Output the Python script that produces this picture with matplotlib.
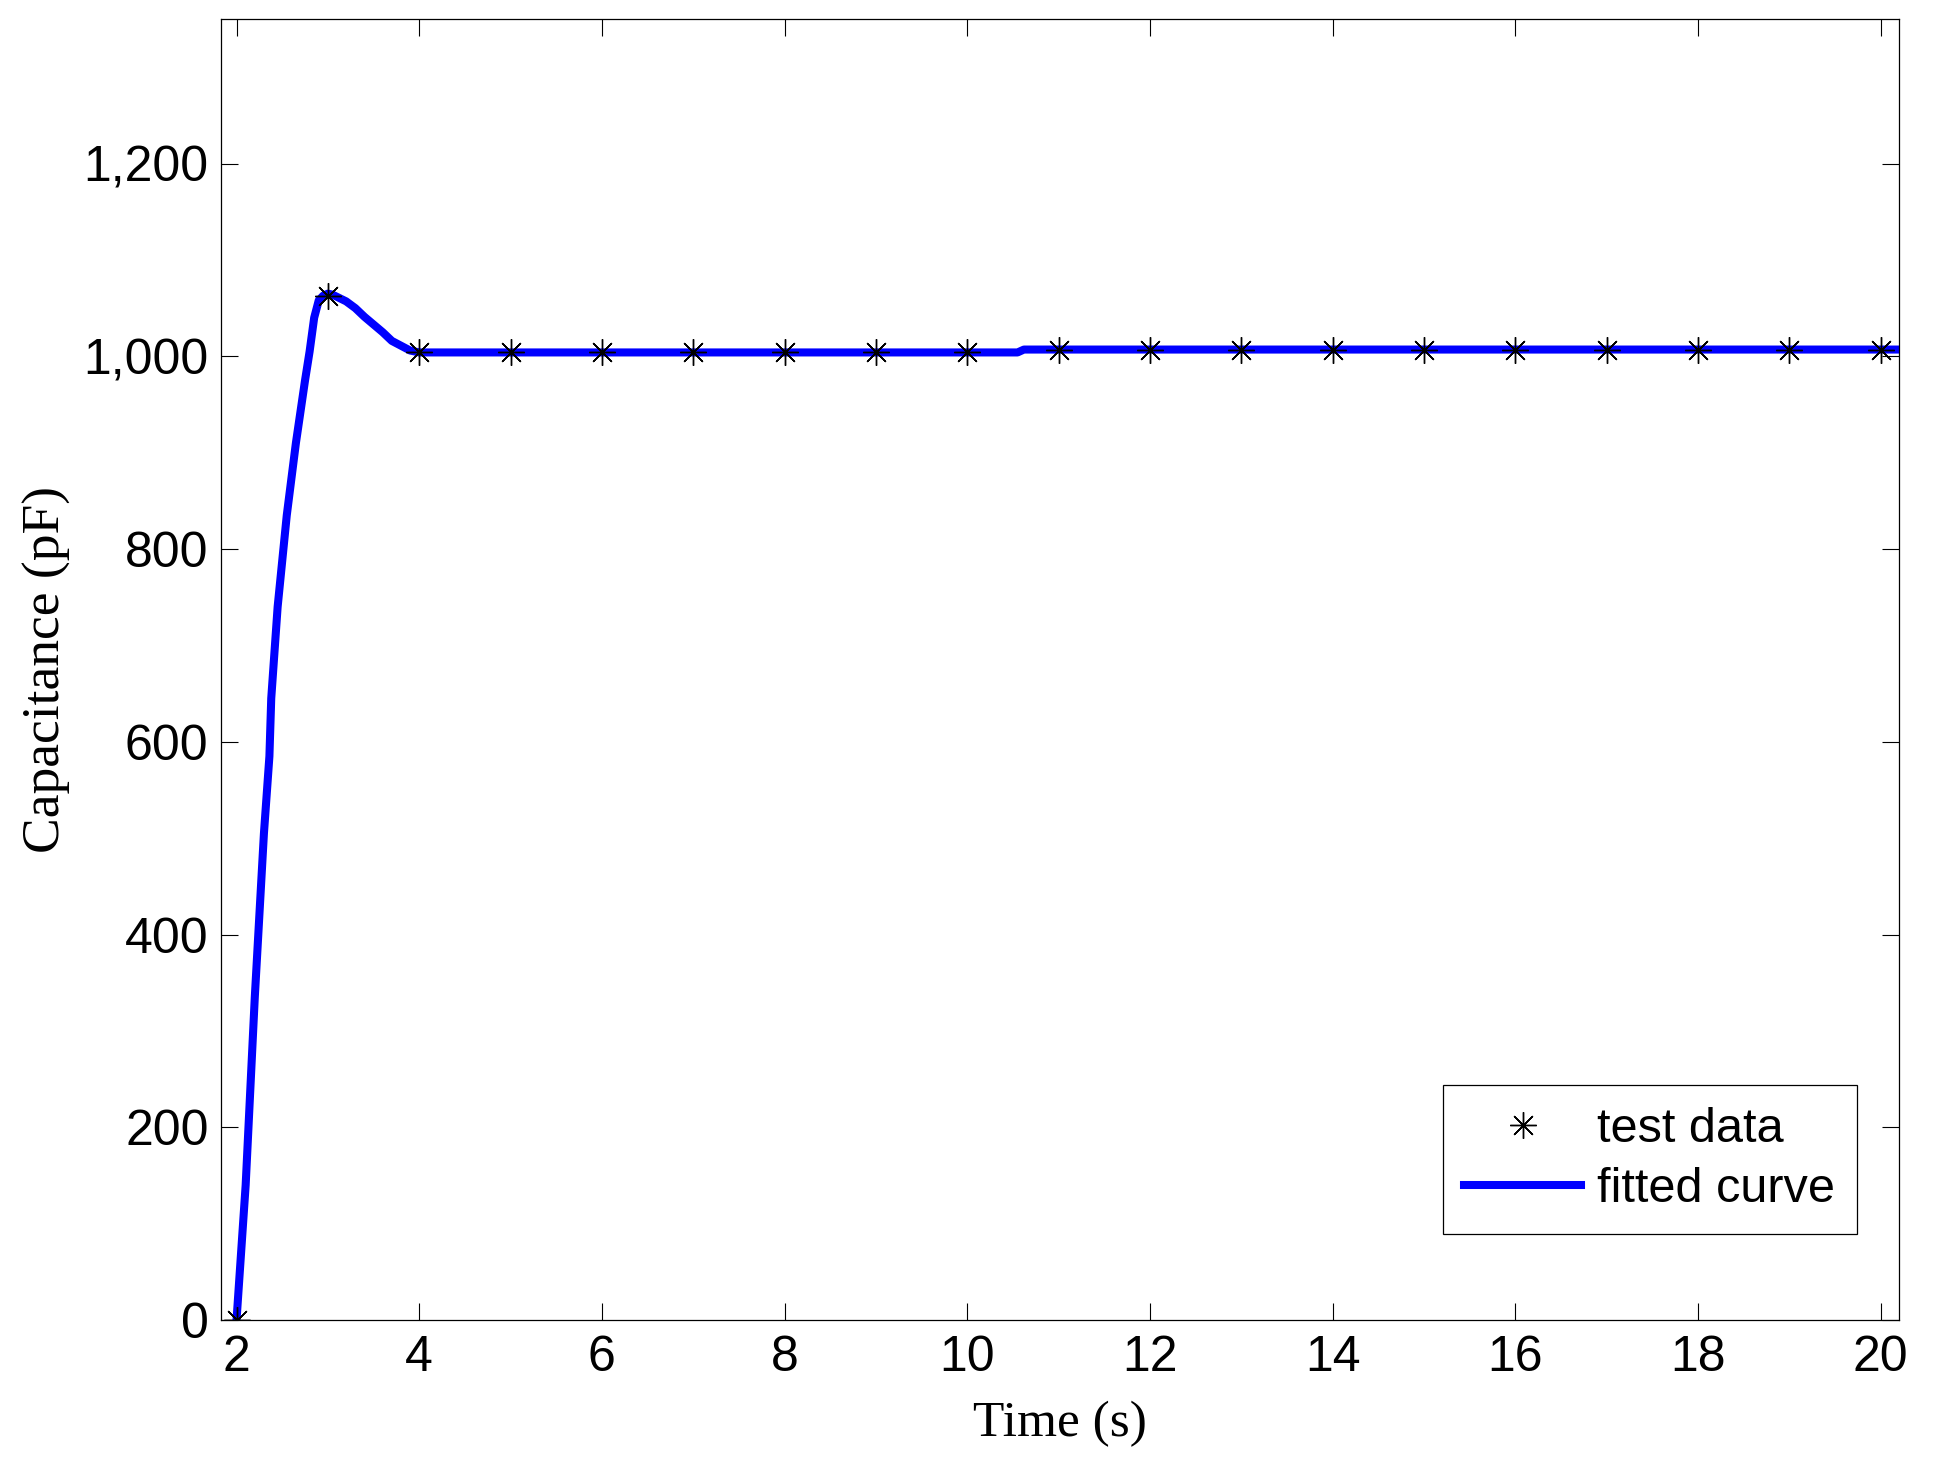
import matplotlib
matplotlib.use("Agg")
import matplotlib.pyplot as plt

# ---- data ----
test_t = [2, 3, 4, 5, 6, 7, 8, 9, 10, 11, 12, 13, 14, 15, 16, 17, 18, 19, 20]
test_c = [0, 1063, 1004, 1004, 1004, 1004, 1004, 1004, 1004,
          1007, 1007, 1007, 1007, 1007, 1007, 1007, 1007, 1007, 1007]

fit_t = [2.0, 2.1, 2.2, 2.3, 2.36, 2.38, 2.45, 2.55, 2.65, 2.75, 2.80, 2.85,
         2.90, 2.95, 3.00, 3.05, 3.2, 3.3, 3.4, 3.5, 3.6, 3.7, 3.8, 3.9, 4.0,
         10.55, 10.62, 20.2]
fit_c = [0, 140, 335, 505, 585, 645, 740, 835, 910, 975, 1005, 1040,
         1058, 1063, 1065, 1064, 1057, 1050, 1041, 1033, 1025, 1016, 1011, 1006, 1004,
         1004, 1007, 1007]

xticks = [2, 4, 6, 8, 10, 12, 14, 16, 18, 20]
yticks = [0, 200, 400, 600, 800, 1000, 1200]
ytick_labels = ["0", "200", "400", "600", "800", "1,000", "1,200"]

W, H = 1934, 1462
fig = plt.figure(figsize=(W / 100, H / 100), dpi=100)
ax = fig.add_axes([221 / W, 1 - 1320 / H, (1899 - 221) / W, (1320 - 19) / H])

ax.plot(test_t, test_c, linestyle="none", marker=(8, 2, 0), markersize=19,
        markeredgewidth=1.0, color="black", label="test data", zorder=3)
ax.plot(fit_t, fit_c, color=(0, 0, 1), linewidth=5.8, label="fitted curve",
        zorder=2, solid_joinstyle="round")

ax.set_xlim(1.83, 20.2)
ax.set_ylim(0, 1350)
ax.set_xticks(xticks)
ax.set_xticklabels([str(v) for v in xticks])
ax.set_yticks(yticks)
ax.set_yticklabels(ytick_labels)

tick_font = "Liberation Sans"
for lab in ax.get_xticklabels() + ax.get_yticklabels():
    lab.set_fontfamily(tick_font)
    lab.set_fontsize(36)

ax.tick_params(direction="in", length=12, width=0.8, top=True, right=True,
               color="black")
ax.tick_params(axis="y", pad=9)
ax.tick_params(axis="x", pad=11)
for s in ax.spines.values():
    s.set_linewidth(0.9)
    s.set_color("black")

ax.set_xlabel("Time (s)", family="Liberation Serif", fontsize=37, labelpad=14)
ax.set_ylabel("Capacitance (pF)", family="Liberation Serif", fontsize=38.5, labelpad=9)

leg = ax.legend(loc="lower right", bbox_to_anchor=(1857 / W, 1 - 1234 / H),
                bbox_transform=fig.transFigure, borderaxespad=0,
                prop={"family": tick_font, "size": 35}, fancybox=False,
                edgecolor="black", framealpha=1, handlelength=2.4,
                handletextpad=0.33, labelspacing=0.32, borderpad=0.45)
leg.get_frame().set_linewidth(0.9)

fig.savefig("out.png", dpi=100)
